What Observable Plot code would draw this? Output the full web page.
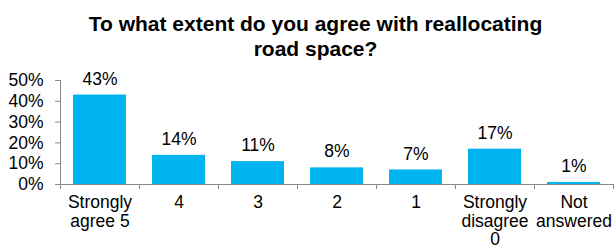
<!DOCTYPE html>
<html>
<head>
<meta charset="utf-8">
<script src="https://cdn.jsdelivr.net/npm/d3@7"></script>
<script src="https://cdn.jsdelivr.net/npm/@observablehq/plot@0.6"></script>
<style>
  html, body { margin: 0; padding: 0; background: #fff; }
  svg { font-family: "Liberation Sans", Arial, sans-serif; }
</style>
</head>
<body>
<div id="chart"></div>
<script>
const title = "To what extent do you agree with reallocating\nroad space?";
const categories = ["Strongly\nagree 5", "4", "3", "2", "1", "Strongly\ndisagree\n0", "Not\nanswered"];
const values = [0.43, 0.14, 0.11, 0.08, 0.07, 0.17, 0.01];
const yTicks = [0, 0.1, 0.2, 0.3, 0.4, 0.5];

const data = categories.map((c, i) => ({category: c, value: values[i]}));
const fmt = d3.format(".0%");
const step = (614 - 1 - 60) / categories.length;

const chart = Plot.plot({
  width: 614,
  height: 251,
  marginLeft: 60,
  marginRight: 1,
  marginTop: 80,
  marginBottom: 67,
  style: {fontFamily: "'Liberation Sans', Arial, sans-serif", color: "#000", background: "#fff"},
  x: {domain: categories, paddingInner: 0.33, paddingOuter: 0.165, label: null},
  y: {domain: [0, 0.5], label: null},
  marks: [
    Plot.barY(data, {x: "category", y: "value", fill: "#00B4F0"}),
    Plot.text(data, {x: "category", y: "value", text: d => fmt(d.value), dy: -16, fontSize: 17.5, fill: "#000"}),
    Plot.ruleY([0], {stroke: "#898989", strokeWidth: 1}),
    Plot.ruleX([categories[0]], {y1: 0, y2: 0.5, dx: -step / 2, stroke: "#898989"}),
    Plot.ruleX(categories, {x: d => d, y1: 0, y2: 0, insetBottom: -5, dx: -step / 2, stroke: "#898989"}),
    Plot.ruleX([categories[categories.length - 1]], {y1: 0, y2: 0, insetBottom: -5, dx: step / 2, stroke: "#898989"}),
    Plot.axisY({ticks: yTicks, tickFormat: fmt, tickSize: 5, tickPadding: 12, fontSize: 17.5, stroke: "#898989", fill: "#000", label: null}),
    Plot.axisX({tickSize: 0, tickPadding: 11, fontSize: 17.5, fill: "#000", lineHeight: 1.04, label: null}),
    Plot.text([title], {frameAnchor: "top", lineAnchor: "top", dx: -21.5, dy: -67, fontSize: 21, fontWeight: "bold", fill: "#000", lineHeight: 1.19})
  ]
});
document.getElementById("chart").appendChild(chart);
</script>
</body>
</html>
